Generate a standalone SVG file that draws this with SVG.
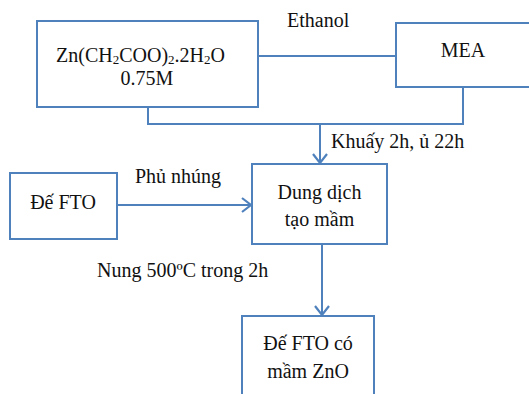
<svg xmlns="http://www.w3.org/2000/svg" width="529" height="394" viewBox="0 0 529 394">
<defs>
<style>
.box{fill:#fff;stroke:#4F81BD;stroke-width:2}
.ln{fill:none;stroke:#4F81BD;stroke-width:2}
.c{text-anchor:middle}
</style>
<marker id="ah" markerUnits="userSpaceOnUse" markerWidth="14" markerHeight="16" refX="11" refY="8" orient="auto">
<path d="M2,1 L11,8 L2,15" fill="none" stroke="#4F81BD" stroke-width="2.2"/>
</marker>
</defs>
<rect width="529" height="394" fill="#fff"/>
<g font-family="Liberation Serif, Times New Roman, serif" font-size="20" fill="#111">
<g id="connectors">
<line class="ln" x1="258" y1="56" x2="396" y2="56"/>
<polyline class="ln" points="148,107 148,124 463,124 463,87"/>
<line class="ln" x1="320" y1="124" x2="320" y2="163" marker-end="url(#ah)"/>
<line class="ln" x1="117" y1="205" x2="251" y2="205" marker-end="url(#ah)"/>
<line class="ln" x1="322" y1="244" x2="322" y2="315" marker-end="url(#ah)"/>
<text x="287" y="27">Ethanol</text>
<text x="331" y="148">Khuấy 2h, ủ 22h</text>
<text x="135" y="183">Phủ nhúng</text>
<text x="97" y="277">Nung 500ºC trong 2h</text>
</g>
<g id="zn">
<rect class="box" x="37" y="21" width="221" height="86"/>
<text x="56" y="62">Zn(CH<tspan font-size="13" dy="2">2</tspan><tspan dy="-2">COO)</tspan><tspan font-size="13" dy="2">2</tspan><tspan dy="-2">.2H</tspan><tspan font-size="13" dy="2">2</tspan><tspan dy="-2">O</tspan></text>
<text class="c" x="147" y="85">0.75M</text>
</g>
<g id="mea">
<rect class="box" x="396" y="23" width="140" height="64"/>
<text class="c" x="463" y="57">MEA</text>
</g>
<g id="fto">
<rect class="box" x="10" y="173" width="107" height="66"/>
<text class="c" x="63" y="209">Đế FTO</text>
</g>
<g id="dung">
<rect class="box" x="252" y="164" width="135" height="80"/>
<text class="c" x="319.5" y="199">Dung dịch</text>
<text class="c" x="319.5" y="226">tạo mầm</text>
</g>
<g id="result">
<rect class="box" x="242" y="316" width="132" height="90"/>
<text class="c" x="308" y="350">Đế FTO có</text>
<text class="c" x="308" y="378">mầm ZnO</text>
</g>
</g>
</svg>
